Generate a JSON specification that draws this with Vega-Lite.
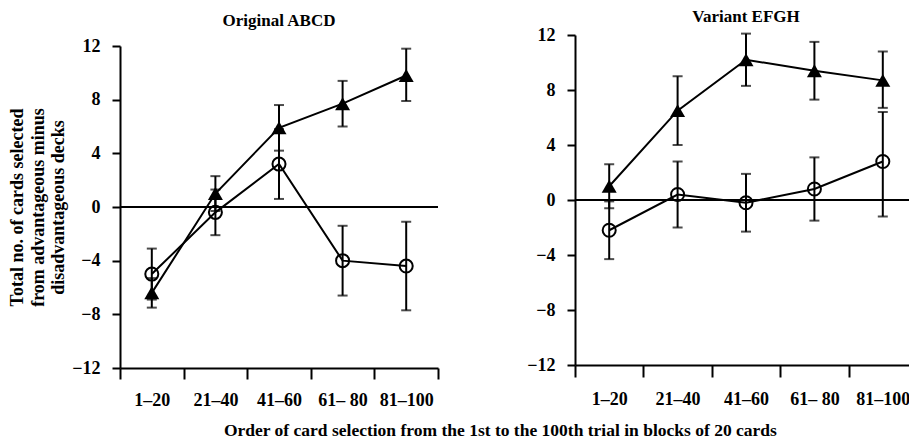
{
  "$schema": "https://vega.github.io/schema/vega-lite/v6.json",
  "padding": {"left": 8, "top": 8, "right": 0, "bottom": 5},
  "config": {
    "font": "Liberation Serif",
    "view": {"stroke": null},
    "axis": {
      "labelFont": "Liberation Serif", "labelFontWeight": "bold", "labelFontSize": 18, "labelColor": "black",
      "titleFont": "Liberation Serif", "titleFontWeight": "bold", "titleFontSize": 18, "titleColor": "black",
      "domainColor": "black", "domainWidth": 2, "tickColor": "black", "tickWidth": 2, "grid": false
    },
    "title": {"font": "Liberation Serif", "fontWeight": "bold", "fontSize": 17, "color": "black"}
  },
  "title": {
    "text": "Order of card selection from the 1st to the 100th trial in blocks of 20 cards",
    "orient": "bottom", "anchor": "middle", "dx": 37, "offset": 13, "fontSize": 17.5
  },
  "datasets": {
    "iowa": [
      {"panel": "Original ABCD", "block": "1–20", "group": "triangle", "value": -6.4, "lo": -7.5, "hi": -5.3},
      {"panel": "Original ABCD", "block": "21–40", "group": "triangle", "value": 1.0, "lo": -0.3, "hi": 2.3},
      {"panel": "Original ABCD", "block": "41–60", "group": "triangle", "value": 5.9, "lo": 4.2, "hi": 7.6},
      {"panel": "Original ABCD", "block": "61– 80", "group": "triangle", "value": 7.7, "lo": 6.0, "hi": 9.4},
      {"panel": "Original ABCD", "block": "81–100", "group": "triangle", "value": 9.8, "lo": 7.9, "hi": 11.8},
      {"panel": "Original ABCD", "block": "1–20", "group": "circle", "value": -5.0, "lo": -6.9, "hi": -3.1},
      {"panel": "Original ABCD", "block": "21–40", "group": "circle", "value": -0.4, "lo": -2.1, "hi": 1.3},
      {"panel": "Original ABCD", "block": "41–60", "group": "circle", "value": 3.2, "lo": 0.6, "hi": 5.8},
      {"panel": "Original ABCD", "block": "61– 80", "group": "circle", "value": -4.0, "lo": -6.6, "hi": -1.4},
      {"panel": "Original ABCD", "block": "81–100", "group": "circle", "value": -4.4, "lo": -7.7, "hi": -1.1},
      {"panel": "Variant EFGH", "block": "1–20", "group": "triangle", "value": 1.0, "lo": -0.6, "hi": 2.6},
      {"panel": "Variant EFGH", "block": "21–40", "group": "triangle", "value": 6.5, "lo": 4.0, "hi": 9.0},
      {"panel": "Variant EFGH", "block": "41–60", "group": "triangle", "value": 10.2, "lo": 8.3, "hi": 12.1},
      {"panel": "Variant EFGH", "block": "61– 80", "group": "triangle", "value": 9.4, "lo": 7.3, "hi": 11.5},
      {"panel": "Variant EFGH", "block": "81–100", "group": "triangle", "value": 8.7, "lo": 6.7, "hi": 10.8},
      {"panel": "Variant EFGH", "block": "1–20", "group": "circle", "value": -2.2, "lo": -4.3, "hi": -0.1},
      {"panel": "Variant EFGH", "block": "21–40", "group": "circle", "value": 0.4, "lo": -2.0, "hi": 2.8},
      {"panel": "Variant EFGH", "block": "41–60", "group": "circle", "value": -0.2, "lo": -2.3, "hi": 1.9},
      {"panel": "Variant EFGH", "block": "61– 80", "group": "circle", "value": 0.8, "lo": -1.5, "hi": 3.1},
      {"panel": "Variant EFGH", "block": "81–100", "group": "circle", "value": 2.8, "lo": -1.2, "hi": 6.4}
    ]
  },
  "data": {"name": "iowa"},
  "spacing": 87,
  "hconcat": [
    {
      "width": 318, "height": 333,
      "title": {"text": "Original ABCD", "offset": 5},
      "transform": [{"filter": "datum.panel === 'Original ABCD'"}],
      "encoding": {
        "x": {"field": "block", "type": "ordinal", "sort": ["1–20", "21–40", "41–60", "61– 80", "81–100"],
              "scale": {"type": "band", "paddingInner": 0, "paddingOuter": 0},
              "axis": {"title": null, "labelAngle": 0, "tickBand": "extent", "tickSize": 11, "labelPadding": 12}}
      },
      "layer": [
        {"mark": {"type": "rule", "color": "black", "strokeWidth": 1.6}, "encoding": {"x": null, "y": {"datum": 0, "type": "quantitative"}}},
        {"mark": {"type": "rule", "color": "black", "strokeWidth": 2},
         "encoding": {"y": {"field": "lo", "type": "quantitative",
                            "scale": {"domain": [-12, 12], "nice": false, "range": [333, 11]},
                            "axis": {"values": [-12, -8, -4, 0, 4, 8, 12], "tickSize": 8, "labelPadding": 12,
                                     "title": ["Total no. of cards selected", "from advantageous minus", "disadvantageous decks"],
                                     "titleLineHeight": 20.5, "titlePadding": 4}},
                      "y2": {"field": "hi"}}},
        {"mark": {"type": "tick", "color": "black", "size": 10, "thickness": 2}, "encoding": {"y": {"field": "lo", "type": "quantitative"}}},
        {"mark": {"type": "tick", "color": "black", "size": 10, "thickness": 2}, "encoding": {"y": {"field": "hi", "type": "quantitative"}}},
        {"mark": {"type": "line", "color": "black", "strokeWidth": 2}, "encoding": {"y": {"field": "value", "type": "quantitative"}, "detail": {"field": "group"}}},
        {"transform": [{"filter": "datum.group === 'triangle'"}],
         "mark": {"type": "point", "shape": "triangle-up", "filled": true, "color": "black", "size": 225, "opacity": 1},
         "encoding": {"y": {"field": "value", "type": "quantitative"}}},
        {"transform": [{"filter": "datum.group === 'circle'"}],
         "mark": {"type": "point", "shape": "circle", "filled": false, "color": "black", "size": 170, "strokeWidth": 2, "opacity": 1},
         "encoding": {"y": {"field": "value", "type": "quantitative"}}}
      ]
    },
    {
      "width": 342, "height": 330,
      "title": {"text": "Variant EFGH", "offset": 0},
      "transform": [{"filter": "datum.panel === 'Variant EFGH'"}],
      "encoding": {
        "x": {"field": "block", "type": "ordinal", "sort": ["1–20", "21–40", "41–60", "61– 80", "81–100"],
              "scale": {"type": "band", "paddingInner": 0, "paddingOuter": 0},
              "axis": {"title": null, "labelAngle": 0, "tickBand": "extent", "tickSize": 12, "labelPadding": 13}}
      },
      "layer": [
        {"mark": {"type": "rule", "color": "black", "strokeWidth": 1.6}, "encoding": {"x": null, "y": {"datum": 0, "type": "quantitative"}}},
        {"mark": {"type": "rule", "color": "black", "strokeWidth": 2},
         "encoding": {"y": {"field": "lo", "type": "quantitative",
                            "scale": {"domain": [-12, 12], "nice": false},
                            "axis": {"values": [-12, -8, -4, 0, 4, 8, 12], "tickSize": 8, "labelPadding": 12, "title": null}},
                      "y2": {"field": "hi"}}},
        {"mark": {"type": "tick", "color": "black", "size": 10, "thickness": 2}, "encoding": {"y": {"field": "lo", "type": "quantitative"}}},
        {"mark": {"type": "tick", "color": "black", "size": 10, "thickness": 2}, "encoding": {"y": {"field": "hi", "type": "quantitative"}}},
        {"mark": {"type": "line", "color": "black", "strokeWidth": 2}, "encoding": {"y": {"field": "value", "type": "quantitative"}, "detail": {"field": "group"}}},
        {"transform": [{"filter": "datum.group === 'triangle'"}],
         "mark": {"type": "point", "shape": "triangle-up", "filled": true, "color": "black", "size": 225, "opacity": 1},
         "encoding": {"y": {"field": "value", "type": "quantitative"}}},
        {"transform": [{"filter": "datum.group === 'circle'"}],
         "mark": {"type": "point", "shape": "circle", "filled": false, "color": "black", "size": 170, "strokeWidth": 2, "opacity": 1},
         "encoding": {"y": {"field": "value", "type": "quantitative"}}}
      ]
    }
  ]
}
